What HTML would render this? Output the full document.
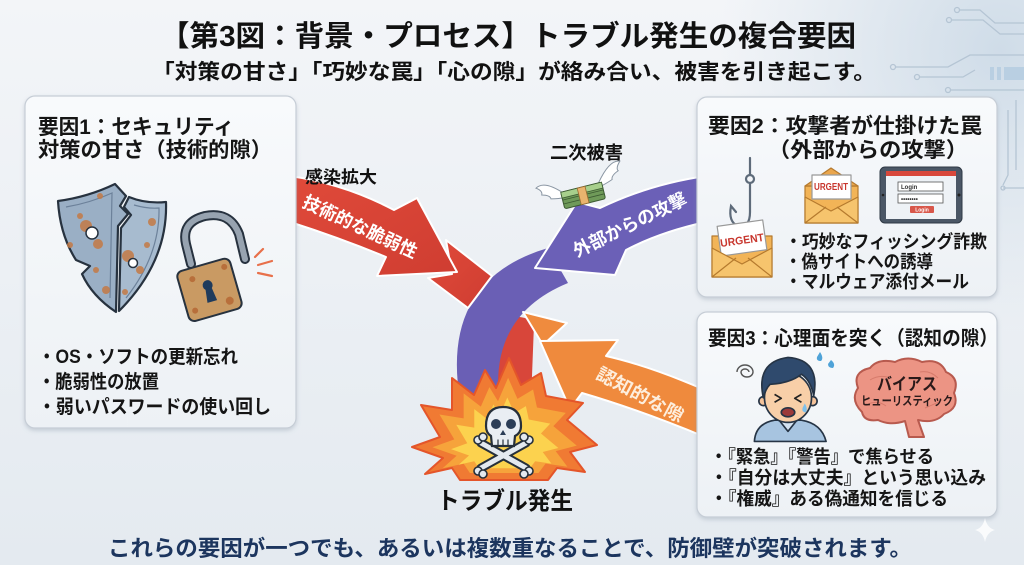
<!DOCTYPE html>
<html><head><meta charset="utf-8"><style>
html,body{margin:0;padding:0;background:#eef2f6;}
svg{display:block;}
text{font-family:"Liberation Sans","Noto Sans CJK JP",sans-serif;font-weight:bold;}
</style></head><body>
<svg width="1024" height="565" viewBox="0 0 1024 565" xmlns="http://www.w3.org/2000/svg">
<defs>
<linearGradient id="bg" x1="0" y1="0" x2="0" y2="1"><stop offset="0" stop-color="#f3f5f8"/><stop offset="1" stop-color="#e4eaf0"/></linearGradient>
<radialGradient id="tr" cx="1000" cy="50" r="280" gradientUnits="userSpaceOnUse"><stop offset="0" stop-color="#cfdce8"/><stop offset="1" stop-color="#d3dfea" stop-opacity="0"/></radialGradient>
<linearGradient id="bx" x1="0" y1="0" x2="0" y2="1"><stop offset="0" stop-color="#f8fafc"/><stop offset="1" stop-color="#edf1f5"/></linearGradient>
<linearGradient id="rd" x1="0" y1="0" x2="1" y2="1"><stop offset="0" stop-color="#e04a3a"/><stop offset="1" stop-color="#cf3d31"/></linearGradient>
<filter id="sh" x="-5%" y="-5%" width="110%" height="115%"><feDropShadow dx="0" dy="2" stdDeviation="2" flood-color="#7f8fa0" flood-opacity="0.35"/></filter>
</defs>
<rect width="1024" height="565" fill="url(#bg)"/>
<rect width="1024" height="565" fill="url(#tr)"/>

<!-- circuit lines -->
<g stroke="#b5c5d4" stroke-width="1.3" fill="none">
<circle cx="957" cy="10" r="2.5"/><polyline points="960,10 980,10 995,23 1024,23"/>
<circle cx="949" cy="20" r="2.5"/><polyline points="952,20 983,20 1000,34 1024,34"/>
<circle cx="893" cy="67" r="2.5"/><polyline points="896,67 948,67 970,55 1024,55"/>
<circle cx="917" cy="77" r="2.5"/><polyline points="920,77 963,77 975,70"/>
<circle cx="948" cy="90" r="2.5"/><polyline points="951,90 1024,90"/>
<polyline points="1003,188 1024,188"/>
<polyline points="1008,110 1008,175 1003,185"/>
<polyline points="1016,100 1016,170"/>
<circle cx="1003" cy="188" r="2"/>
</g>
<g fill="#b9cfe2"><rect x="990" y="67" width="4" height="13"/><rect x="997" y="67" width="4" height="13"/><rect x="1004" y="67" width="20" height="13"/></g>

<!-- title -->
<text x="160" y="46" font-size="29" fill="#111" textLength="696" lengthAdjust="spacingAndGlyphs">【第3図：背景・プロセス】トラブル発生の複合要因</text>
<text x="152" y="79" font-size="21" fill="#111" textLength="724" lengthAdjust="spacingAndGlyphs">「対策の甘さ」「巧妙な罠」「心の隙」が絡み合い、被害を引き起こす。</text>

<!-- ===== arrows ===== -->
<path d="M508,318 Q525,314 534,324 L531,402 L496,402 Q496,350 508,318 Z" fill="#d8463a"/>
<path d="M548,248 Q440,280 460,400 L499,400 Q490,315 568,283 Z" fill="#6a5fb5"/>
<path d="M523,312 L567,323 L543,345 Z" fill="#ef8b3e" stroke="#fff" stroke-width="2" stroke-linejoin="round"/>
<path d="M705,390 Q650,366 606,356 L618,340 L540,341 L570,409 L582,393 Q640,410 705,437 Z" fill="#ef8a3d" stroke="#fff" stroke-width="2" stroke-linejoin="round"/>
<path d="M446,240 L492,276 L468,308 L428,278 L452,274 Z" fill="url(#rd)" stroke="#fff" stroke-width="2" stroke-linejoin="round"/>
<path d="M290,176 Q345,184 394,210 L417,198 L457,272 L377,276 L386,257 Q340,238 290,222 Z" fill="url(#rd)" stroke="#fff" stroke-width="2" stroke-linejoin="round"/>
<path d="M706,176 Q650,184 600,208 L577,202 L535,268 L615,275 L626,250 Q660,232 706,222 Z" fill="#6b60b7" stroke="#fff" stroke-width="2" stroke-linejoin="round"/>

<text x="360" y="233" font-size="18" fill="#fff" text-anchor="middle" textLength="124" lengthAdjust="spacingAndGlyphs" transform="rotate(25 360 227)">技術的な脆弱性</text>
<text x="630" y="231" font-size="18" fill="#fff" text-anchor="middle" textLength="124" lengthAdjust="spacingAndGlyphs" transform="rotate(-26 630 225)">外部からの攻撃</text>
<text x="640" y="401" font-size="18" fill="#fdeedd" text-anchor="middle" textLength="96" lengthAdjust="spacingAndGlyphs" transform="rotate(28 640 395)">認知的な隙</text>

<text x="305" y="183" font-size="17" fill="#111" textLength="72" lengthAdjust="spacingAndGlyphs">感染拡大</text>
<text x="550" y="159" font-size="18" fill="#111" textLength="73" lengthAdjust="spacingAndGlyphs">二次被害</text>

<!-- flying money -->
<g transform="translate(583,195) rotate(-14)">
<path d="M-18,-6 Q-34,-24 -44,-18 Q-38,-14 -40,-10 Q-32,-8 -32,-4 Q-24,-2 -18,-2 Z" fill="#fff" stroke="#8a96a3" stroke-width="1"/>
<path d="M18,-8 Q34,-28 44,-24 Q38,-18 40,-15 Q32,-12 32,-8 Q24,-5 18,-4 Z" fill="#fff" stroke="#8a96a3" stroke-width="1"/>
<rect x="-21" y="-8" width="42" height="17" rx="2" fill="#6f9a59" stroke="#3c5a32" stroke-width="1"/>
<line x1="-21" y1="0" x2="21" y2="0" stroke="#3c5a32" stroke-width="0.8"/>
<line x1="-21" y1="4" x2="21" y2="4" stroke="#3c5a32" stroke-width="0.8"/>
<rect x="-21" y="-8" width="42" height="6" fill="#a7cf8c" stroke="#3c5a32" stroke-width="0.8"/>
<rect x="-4" y="-8" width="8" height="17" fill="#e9b46e" stroke="#9a6a2e" stroke-width="0.8"/>
</g>

<!-- explosion -->
<g>
<polygon points="412,447 440,437 421,405 452,410 452,378 474,395 485,370 496,388 509,358 521,385 541,373 546,396 583,403 567,420 597,445 570,452 585,472 557,468 548,480 460,480 452,468 425,474 443,458" fill="#f07a33" stroke="#e4552a" stroke-width="2" stroke-linejoin="round"/>
<polygon transform="translate(505,448) scale(0.78) translate(-505,-448)" points="412,447 440,437 421,405 452,410 452,378 474,395 485,370 496,388 509,358 521,385 541,373 546,396 583,403 567,420 597,445 570,452 585,472 557,468 548,480 460,480 452,468 425,474 443,458" fill="#f6a33b"/>
<polygon transform="translate(505,452) scale(0.58) translate(-505,-452)" points="412,447 440,437 421,405 452,410 452,378 474,395 485,370 496,388 509,358 521,385 541,373 546,396 583,403 567,420 597,445 570,452 585,472 557,468 548,480 460,480 452,468 425,474 443,458" fill="#fcd24e"/>
</g>
<!-- skull -->
<g stroke="#26303b" stroke-linecap="round">
<line x1="481" y1="443" x2="526" y2="468" stroke-width="9"/>
<line x1="526" y1="443" x2="481" y2="468" stroke-width="9"/>
<line x1="481" y1="443" x2="526" y2="468" stroke="#e3e9ef" stroke-width="5"/>
<line x1="526" y1="443" x2="481" y2="468" stroke="#e3e9ef" stroke-width="5"/>
<g fill="#e3e9ef" stroke-width="1.6">
<circle cx="478" cy="440" r="4"/><circle cx="483" cy="437" r="4"/>
<circle cx="529" cy="440" r="4"/><circle cx="524" cy="437" r="4"/>
<circle cx="478" cy="471" r="4"/><circle cx="483" cy="474" r="4"/>
<circle cx="529" cy="471" r="4"/><circle cx="524" cy="474" r="4"/>
</g>
<path d="M486,426 Q486,407 503,407 Q521,407 521,426 Q521,433 515,436 L514,446 L492,446 L491,436 Q486,433 486,426 Z" fill="#e9eef3" stroke-width="2.2"/>
<circle cx="496" cy="424" r="5" fill="#2c3e57" stroke="none"/>
<circle cx="511" cy="424" r="5" fill="#2c3e57" stroke="none"/>
<path d="M503,430 L500,435 L506,435 Z" fill="#2c3e57" stroke="none"/>
<line x1="498" y1="440" x2="498" y2="446" stroke-width="1.2"/>
<line x1="503" y1="440" x2="503" y2="446" stroke-width="1.2"/>
<line x1="508" y1="440" x2="508" y2="446" stroke-width="1.2"/>
</g>
<text x="437" y="509" font-size="24" fill="#111" textLength="136" lengthAdjust="spacingAndGlyphs">トラブル発生</text>

<!-- ===== box 1 ===== -->
<rect x="25" y="96" width="271" height="332" rx="10" fill="url(#bx)" stroke="#c6cdd6" stroke-width="1.2" filter="url(#sh)"/>
<text x="38" y="134" font-size="21" fill="#151515" textLength="196" lengthAdjust="spacingAndGlyphs">要因1：セキュリティ</text>
<text x="38" y="157" font-size="21" fill="#151515" textLength="234" lengthAdjust="spacingAndGlyphs">対策の甘さ（技術的隙）</text>
<!-- shield -->
<g stroke="#27323f" stroke-width="2.2" stroke-linejoin="round">
<path d="M58,201 Q88,197 115,184 L126,196 L120,206 L128,214 L118,226 L116,312 Q92,296 82,274 L90,266 L76,260 Q60,235 58,201 Z" fill="#9aafc5"/>
<path d="M129,197 Q146,204 166,202 Q168,262 119,311 L121,228 L131,215 L124,207 Z" fill="#a7bbcf"/>
</g>
<g fill="none" stroke="#6c819a" stroke-width="1.2">
<path d="M66,207 Q90,203 112,193 L110,298"/>
<path d="M134,205 Q148,209 159,208 Q160,255 126,298"/>
</g>
<g fill="#c47a45" opacity="0.85">
<circle cx="86" cy="226" r="6"/><circle cx="98" cy="244" r="5"/><circle cx="80" cy="216" r="3"/>
<circle cx="128" cy="256" r="6"/><circle cx="140" cy="270" r="4"/><circle cx="152" cy="222" r="4"/>
<circle cx="106" cy="290" r="4"/><circle cx="70" cy="245" r="3"/><circle cx="147" cy="245" r="3"/>
<circle cx="100" cy="196" r="3"/><circle cx="125" cy="292" r="3"/><circle cx="96" cy="270" r="3"/>
</g>
<circle cx="92" cy="233" r="6" fill="#fff" stroke="#27323f" stroke-width="1.5"/>
<circle cx="133" cy="263" r="4.5" fill="#fff" stroke="#27323f" stroke-width="1.5"/>
<!-- padlock -->
<path d="M191,264 L186,244 Q181,222 205,216 Q230,211 239,234 L245,259" fill="none" stroke="#27323f" stroke-width="10" stroke-linecap="round"/>
<path d="M191,264 L186,244 Q181,222 205,216 Q230,211 239,234 L245,259" fill="none" stroke="#97a3b0" stroke-width="6" stroke-linecap="round"/>
<g transform="rotate(-16 209 290)">
<rect x="182" y="264" width="55" height="52" rx="6" fill="#c99a63" stroke="#27323f" stroke-width="2"/>
<circle cx="196" cy="275" r="3" fill="#b86f3b"/><circle cx="226" cy="306" r="4" fill="#b86f3b"/><circle cx="190" cy="306" r="3" fill="#b86f3b"/><circle cx="230" cy="272" r="3" fill="#b86f3b"/>
<circle cx="209" cy="285" r="5" fill="#1f3b5c"/>
<path d="M206,287 L212,287 L214,302 L204,302 Z" fill="#1f3b5c"/>
</g>
<g stroke="#e8704a" stroke-width="2.2" stroke-linecap="round">
<line x1="255" y1="257" x2="263" y2="249"/><line x1="258" y1="265" x2="272" y2="261"/><line x1="258" y1="273" x2="272" y2="276"/>
</g>
<text x="38" y="363" font-size="19" fill="#151515" textLength="200" lengthAdjust="spacingAndGlyphs">・OS・ソフトの更新忘れ</text>
<text x="38" y="388" font-size="19" fill="#151515" textLength="121" lengthAdjust="spacingAndGlyphs">・脆弱性の放置</text>
<text x="38" y="413" font-size="19" fill="#151515" textLength="233" lengthAdjust="spacingAndGlyphs">・弱いパスワードの使い回し</text>

<!-- ===== box 2 ===== -->
<rect x="697" y="97" width="300" height="200" rx="10" fill="url(#bx)" stroke="#c6cdd6" stroke-width="1.2" filter="url(#sh)"/>
<text x="708" y="133" font-size="21" fill="#151515" textLength="274" lengthAdjust="spacingAndGlyphs">要因2：攻撃者が仕掛けた罠</text>
<text x="768" y="157" font-size="21" fill="#151515" textLength="200" lengthAdjust="spacingAndGlyphs">（外部からの攻撃）</text>
<g fill="none" stroke="#5e6b7a" stroke-width="2.2" stroke-linecap="round">
<line x1="750" y1="158" x2="750" y2="175"/>
<circle cx="750" cy="179" r="4"/>
<path d="M750,183 L750,212 Q750,228 738,226 Q728,222 731,206 L736,212"/>
</g>
<g stroke="#b57a2e" stroke-width="1.2" stroke-linejoin="round">
<rect x="712" y="236" width="60" height="41" fill="#f2b457"/>
<g transform="rotate(-8 742 238)"><rect x="719" y="223" width="46" height="30" fill="#fff" stroke="#999"/></g>
<path d="M712,248 L742,264 L772,248 L772,277 L712,277 Z" fill="#f6c46d"/>
<path d="M712,277 L736,258 M772,277 L748,258" fill="none"/>
</g>
<text x="742" y="244" font-size="11" fill="#c8372e" text-anchor="middle" textLength="44" lengthAdjust="spacingAndGlyphs" transform="rotate(-8 742 240)">URGENT</text>
<g stroke="#b57a2e" stroke-width="1.2" stroke-linejoin="round">
<rect x="805" y="186" width="53" height="37" fill="#f2b457"/>
<path d="M805,186 L831,168 L858,186 Z" fill="#eaa64c"/>
<rect x="812" y="175" width="39" height="24" fill="#fff" stroke="#999"/>
<path d="M805,197 L831,211 L858,197 L858,223 L805,223 Z" fill="#f6c46d"/>
<path d="M805,223 L826,207 M858,223 L837,207" fill="none"/>
</g>
<text x="831" y="190" font-size="10" fill="#c8372e" text-anchor="middle" textLength="34" lengthAdjust="spacingAndGlyphs">URGENT</text>
<rect x="880" y="167" width="82" height="56" rx="5" fill="#4b5766" stroke="#2f3945" stroke-width="1"/>
<rect x="886" y="171" width="70" height="48" fill="#eef2f6"/>
<rect x="886" y="171" width="70" height="5" fill="#d8483b"/>
<circle cx="883" cy="195" r="1.3" fill="#222"/><circle cx="959" cy="195" r="1.5" fill="#222"/>
<rect x="898" y="182" width="45" height="9" fill="#fff" stroke="#555" stroke-width="0.8"/>
<text x="901" y="189" font-size="6" fill="#333" font-weight="normal">Login</text>
<rect x="898" y="194" width="45" height="9" fill="#fff" stroke="#555" stroke-width="0.8"/>
<text x="901" y="201" font-size="6" fill="#333">••••••••</text>
<rect x="910" y="206" width="24" height="7" rx="1" fill="#d8574a"/>
<text x="922" y="211.5" font-size="5" fill="#fff" text-anchor="middle" font-weight="normal">Login</text>
<text x="785" y="248" font-size="18" fill="#151515" textLength="202" lengthAdjust="spacingAndGlyphs">・巧妙なフィッシング詐欺</text>
<text x="785" y="268" font-size="18" fill="#151515" textLength="148" lengthAdjust="spacingAndGlyphs">・偽サイトへの誘導</text>
<text x="785" y="288" font-size="18" fill="#151515" textLength="184" lengthAdjust="spacingAndGlyphs">・マルウェア添付メール</text>

<!-- ===== box 3 ===== -->
<rect x="697" y="312" width="300" height="205" rx="10" fill="url(#bx)" stroke="#c6cdd6" stroke-width="1.2" filter="url(#sh)"/>
<text x="708" y="345" font-size="20" fill="#151515" textLength="290" lengthAdjust="spacingAndGlyphs">要因3：心理面を突く（認知の隙）</text>
<!-- man -->
<g transform="translate(788,400) scale(1.12) translate(-788,-400)">
<g stroke="#263445" stroke-width="1.5" stroke-linejoin="round">
<path d="M758,437 Q759,421 776,418 L800,418 Q818,421 822,437 Z" fill="#a7c4e0"/>
<path d="M780,418 L788,428 L796,418 Z" fill="#d3e2f1"/>
<rect x="782" y="410" width="12" height="9" fill="#f5c39a" stroke="none"/>
<circle cx="766" cy="401" r="4" fill="#f5c39a"/>
<circle cx="810" cy="401" r="4" fill="#f5c39a"/>
<ellipse cx="788" cy="398" rx="21" ry="22" fill="#f8cfa8"/>
<path d="M766,398 Q759,366 788,362 Q817,364 811,396 Q808,382 800,377 Q790,385 772,386 Q768,390 766,398 Z" fill="#2f4a6d"/>
<path d="M776,395 L782,398.5 L776,402 M800,395 L794,398.5 L800,402" fill="none" stroke="#222"/>
<ellipse cx="788" cy="411" rx="6" ry="4" fill="#9c3a3a"/>
</g>
<path d="M803,403 Q806,408 804,411 Q800,411 801,407 Z" fill="#7fc0ea"/>
</g>
<path d="M820,352 Q824,358 821,361 Q816,361 817,357 Z" fill="#4fa3d8"/>
<path d="M831,360 Q836,364 833,368 Q828,368 828,364 Z" fill="#4fa3d8"/>
<path d="M745,372 m-8,0 a8,7 0 1,1 16,0 a6,5 0 1,1 -12,0 a4,3 0 1,1 8,0" fill="none" stroke="#555" stroke-width="1.4"/>
<!-- brain -->
<path d="M862,412 Q850,400 858,388 Q852,372 870,368 Q878,358 895,362 Q908,355 922,362 Q940,358 946,372 Q960,378 954,393 Q960,408 944,414 Q935,424 918,420 L924,437 L909,437 L905,421 Q890,426 878,420 Q864,422 862,412 Z" fill="#ec9484" stroke="#b85a4e" stroke-width="2" stroke-linejoin="round"/>
<g fill="none" stroke="#c96a5c" stroke-width="1" opacity="0.6">
<path d="M870,380 Q880,374 890,378"/><path d="M920,372 Q930,370 938,378"/><path d="M868,404 Q878,400 886,406"/><path d="M925,408 Q935,404 942,400"/>
</g>
<text x="907" y="390" font-size="17" fill="#2a1a1a" text-anchor="middle" textLength="60" lengthAdjust="spacingAndGlyphs">バイアス</text>
<text x="907" y="405" font-size="12" fill="#2a1a1a" text-anchor="middle" textLength="92" lengthAdjust="spacingAndGlyphs">ヒューリスティック</text>
<text x="710" y="463" font-size="18" fill="#151515" textLength="224" lengthAdjust="spacingAndGlyphs">・『緊急』『警告』で焦らせる</text>
<text x="710" y="484" font-size="18" fill="#151515" textLength="276" lengthAdjust="spacingAndGlyphs">・『自分は大丈夫』という思い込み</text>
<text x="710" y="505" font-size="18" fill="#151515" textLength="238" lengthAdjust="spacingAndGlyphs">・『権威』ある偽通知を信じる</text>

<path d="M985,518 Q987,528 995,530 Q987,532 985,542 Q983,532 975,530 Q983,528 985,518 Z" fill="#fff" opacity="0.8"/>

<text x="108" y="556" font-size="22" fill="#1c355e" textLength="804" lengthAdjust="spacingAndGlyphs">これらの要因が一つでも、あるいは複数重なることで、防御壁が突破されます。</text>
</svg>
</body></html>
